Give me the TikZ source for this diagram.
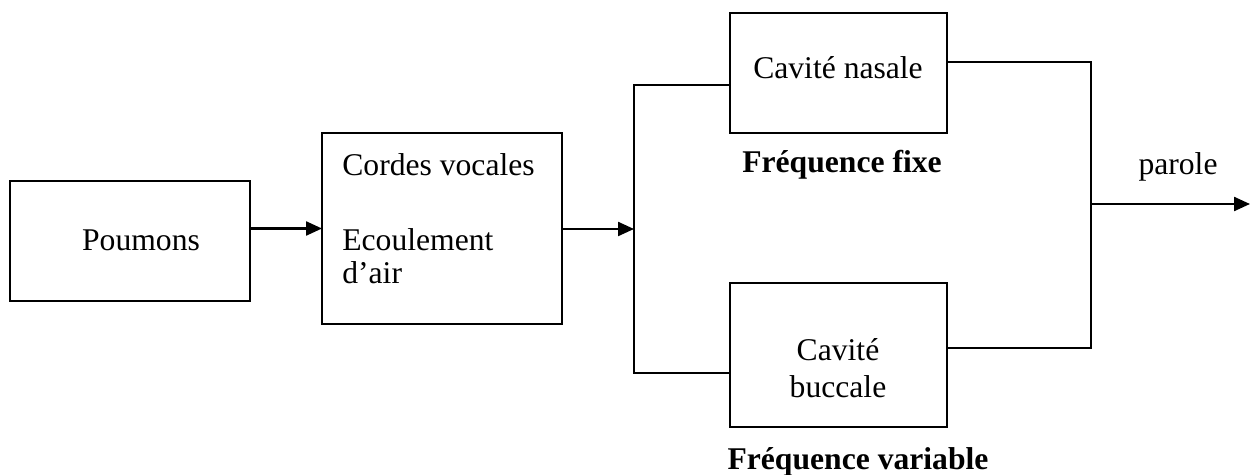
\documentclass[tikz,border=0pt]{standalone}
\usepackage{fontspec}
\setmainfont{Liberation Serif}
\usetikzlibrary{arrows.meta}
\usetikzlibrary{calc}

\tikzset{
  blk/.style={draw,rectangle,line width=1.3pt,outer sep=0pt,inner sep=0pt},
  txt/.style={inner sep=0pt,font=\fontsize{18}{21}\selectfont},
  btxt/.style={txt,font=\fontsize{18}{21}\selectfont\bfseries},
  wire/.style={line width=1.3pt},
  flow/.style={wire,-{Triangle[length=3.2mm,width=2.8mm]}}
}

\begin{document}
\begin{tikzpicture}[x=0.02cm,y=-0.02cm]
\useasboundingbox (0,0) rectangle (1250,475);
% blocks
\node[blk,minimum width=4.8cm,minimum height=2.4cm] (poumons) at (130,241) {};
\node[blk,minimum width=4.8cm,minimum height=3.82cm] (cordes) at (442,228.5) {};
\node[blk,minimum width=4.34cm,minimum height=2.4cm] (nasale) at (838.5,73) {};
\node[blk,minimum width=4.34cm,minimum height=2.88cm] (buccale) at (838.5,355) {};
% texts
\node[txt] (t-poumons) at (141,240) {Poumons};
\node[txt,anchor=west] (t-cordes) at (342,165) {Cordes vocales};
\node[txt,anchor=west] (t-ecoul) at (342,240) {Ecoulement};
\node[txt,anchor=west] (t-air) at (342,273) {d’air};
\node[txt] (t-nasale) at (838,68) {Cavité nasale};
\node[txt] (t-cav) at (838,350) {Cavité};
\node[txt] (t-bucc) at (838,387) {buccale};
\node[btxt] (f-fixe) at (842,165) {Fréquence fixe};
\node[btxt] (f-var) at (858,462) {Fréquence variable};
\node[txt] (parole) at (1178,167) {parole};
% junctions
\coordinate (split) at (634,229);
\coordinate (split-top) at (634,85);
\coordinate (split-bot) at (634,373);
\coordinate (merge) at (1091,204);
\coordinate (merge-top) at (1091,62);
\coordinate (merge-bot) at (1091,348);
\coordinate (out) at (1250,204);
% connectors
\draw[flow] (poumons.east |- cordes.west) -- (cordes.west);
\draw[flow] (cordes.east |- split) -- (split);
\draw[wire] (nasale.west |- split-top) -- (split-top) -- (split-bot) -- (buccale.west |- split-bot);
\draw[wire] (nasale.east |- merge-top) -- (merge-top) -- (merge-bot) -- (buccale.east |- merge-bot);
\draw[flow] (merge) -- (out);
\end{tikzpicture}
\end{document}
